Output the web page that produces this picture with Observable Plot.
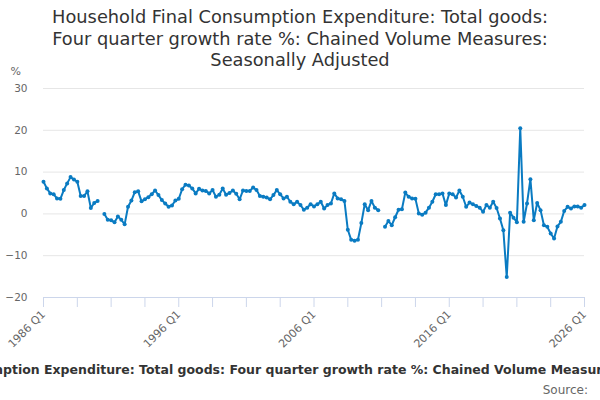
<!DOCTYPE html>
<html><head><meta charset="utf-8">
<script src="https://cdn.jsdelivr.net/npm/d3@7"></script>
<script src="https://cdn.jsdelivr.net/npm/@observablehq/plot@0.6"></script>
<style>
body{margin:0;background:#fff;font-family:"DejaVu Sans",sans-serif;}
#wrap{width:600px;height:400px;overflow:hidden;position:relative;background:#fff;}
#title{height:64px;padding-top:6px;box-sizing:border-box;text-align:center;font-size:17.8px;line-height:21.5px;color:#333;}
#chart{height:290px;}
#caption{width:600px;overflow:hidden;white-space:nowrap;display:flex;justify-content:center;font-weight:bold;font-size:12.5px;line-height:18px;padding-top:7px;color:#333;}
#source{text-align:right;padding-right:12px;font-size:12px;line-height:16px;padding-top:3px;color:#666;}
</style></head><body>
<div id="wrap">
<div id="title">Household Final Consumption Expenditure: Total goods:<br>Four quarter growth rate %: Chained Volume Measures:<br>Seasonally Adjusted</div>
<div id="chart"></div>
<div id="caption"><span>Household Final Consumption Expenditure: Total goods: Four quarter growth rate %: Chained Volume Measures: Seasonally Adjusted</span></div>
<div id="source">Source:</div>
</div>
<script>
// Quarterly four-quarter growth rate (%), from 1986 Q1 (index 0); null = missing
const growth = [
  7.7, 6.1, 4.9, 4.7, 3.7, 3.6, 5.7, 7.3, 8.8, 8.2,
  7.7, 4.3, 4.3, 5.4, 1.4, 2.6, 3.1, null, 0.0, -1.4,
  -1.5, -2.0, -0.6, -1.4, -2.5, 1.7, 3.2, 5.2, 5.4, 3.0,
  3.5, 4.0, 4.7, 5.6, 4.5, 3.3, 2.5, 1.7, 2.0, 3.2,
  3.6, 5.9, 7.0, 6.8, 6.1, 4.9, 6.0, 5.6, 5.5, 4.9,
  5.7, 4.1, 4.6, 6.1, 4.6, 5.0, 5.6, 4.8, 3.5, 5.6,
  5.5, 5.5, 6.3, 5.7, 4.3, 4.1, 3.9, 3.5, 4.5, 5.7,
  4.7, 3.7, 4.1, 2.9, 2.3, 2.9, 2.1, 1.0, 1.5, 2.3,
  1.8, 2.3, 2.9, 1.3, 2.1, 2.5, 4.9, 3.7, 3.5, 3.1,
  -3.8, -6.2, -6.4, -6.2, -2.2, 2.3, 0.9, 3.1, 1.5, 0.9,
  null, -3.1, -1.7, -2.7, -0.8, 1.0, 1.1, 5.1, 4.1, 3.7,
  3.6, 0.1, -0.2, 0.3, 1.5, 2.9, 4.7, 4.7, 4.9, 2.1,
  4.9, 4.7, 3.9, 5.6, 4.1, 1.7, 2.7, 2.3, 1.9, 1.5,
  0.5, 2.1, 1.5, 2.9, 1.4, -1.1, -3.9, -15.1, 0.3, -0.9,
  -2.0, 20.5, -1.9, 2.5, 8.3, -1.5, 2.6, 0.9, -2.7, -3.1,
  -4.7, -5.9, -3.0, -1.9, 0.7, 1.7, 1.3, 1.8, 1.8, 1.5,
  2.1
];
const yTicks = [-20, -10, 0, 10, 20, 30];
const xTickIndex = [0, 10, 20, 30, 40, 50, 60, 70, 80, 90, 100, 110, 120, 130, 140, 150, 160];
const xLabelIndex = [0, 40, 80, 120, 160];
const xTickLabels = ["1986 Q1", "1996 Q1", "2006 Q1", "2016 Q1", "2026 Q1"];
const unitLabel = "%";

const table = growth.map((v, i) => ({q: i, v}));
const blue = "#0a7bc2";

const chart = Plot.plot({
  width: 600,
  height: 290,
  marginTop: 24,
  marginBottom: 57,
  marginLeft: 43,
  marginRight: 16,
  style: {fontFamily: "DejaVu Sans, sans-serif", fontSize: "10.5px", color: "#666", background: "#fff"},
  x: {domain: [0, 160]},
  y: {domain: [-20, 30]},
  marks: [
    Plot.ruleY(yTicks, {stroke: "#e6e6e6", strokeWidth: 1}),
    Plot.ruleY([-20], {stroke: "#ccd6eb", strokeWidth: 1}),
    Plot.axisY({ticks: yTicks, tickSize: 0, tickPadding: 16, label: null, fill: "#666"}),
    Plot.axisX({ticks: xTickIndex, tickSize: 10, tickFormat: () => "", stroke: "#ccd6eb", label: null}),
    Plot.axisX({ticks: xLabelIndex, tickSize: 0, tickPadding: 15, tickRotate: -45, fontSize: 11,
      tickFormat: d => xTickLabels[xLabelIndex.indexOf(d)], label: null, fill: "#666"}),
    Plot.text([unitLabel], {frameAnchor: "top-left", dx: -33, dy: -21, fill: "#666", fontSize: 11}),
    Plot.line(table, {x: "q", y: "v", stroke: blue, strokeWidth: 2}),
    Plot.dot(table, {x: "q", y: "v", r: 2, fill: blue, stroke: "none"})
  ]
});
document.getElementById("chart").appendChild(chart);
</script>
</body></html>
